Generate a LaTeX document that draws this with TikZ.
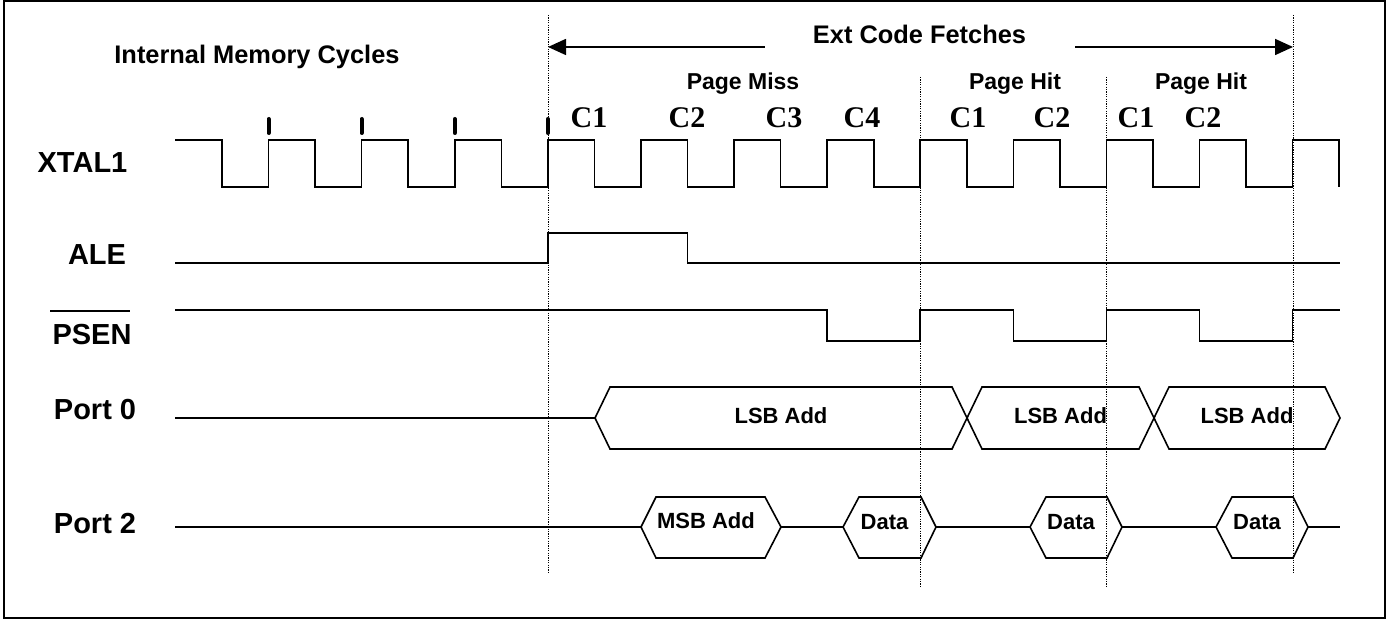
\documentclass[tikz,border=0pt]{standalone}
\usepackage{fontspec}
\setmainfont{Liberation Sans}
\newfontfamily\cycfont{Liberation Serif}
\usepackage{tikz}
\usetikzlibrary{positioning,calc,arrows.meta}

\tikzset{
  wave/.style={line width=0.8pt},
  marker/.style={line width=0.5pt, dash pattern=on 0.6pt off 0.6pt},
  siglabel/.style={font=\fontsize{14.5}{16}\selectfont\bfseries, anchor=base, inner sep=0pt},
  head/.style={font=\fontsize{12.7}{14}\selectfont\bfseries, anchor=base, inner sep=0pt},
  page/.style={font=\fontsize{11.5}{13}\selectfont\bfseries, anchor=base, inner sep=0pt},
  cyc/.style={font=\fontsize{15}{17}\selectfont\cycfont\bfseries, anchor=base, inner sep=0pt},
  bus/.style={font=\fontsize{11}{13}\selectfont\bfseries, anchor=base, inner sep=0pt},
  span/.style={line width=0.8pt, -{Triangle[length=9pt,width=8pt]}}
}

\begin{document}
\begin{tikzpicture}[x=0.5pt, y=-0.5pt]
    \useasboundingbox (0,0) rectangle (1390,619);
    % Border
    \draw[line width=1pt] (4,1.5) rectangle (1385,618);

    % Markers
    \draw[marker] (548,15) -- (548,572);
    \draw[marker] (1293,15) -- (1293,572);
    \draw[marker] (920,77) -- (920,587);
    \draw[marker] (1106,77) -- (1106,587);

    % Headings
    \node[head] (internal) at (257,64) {Internal Memory Cycles};
    \node[head] (fetch) at (919.5,44) {Ext Code Fetches};
    \coordinate (fetchL) at (548,47);
    \coordinate (fetchR) at (1293,47);
    \draw[span] ($(fetch.west |- fetchL)+(-48,0)$) -- (fetchL);
    \draw[span] ($(fetch.east |- fetchR)+(49,0)$) -- (fetchR);

    \node[page] (miss) at (743,90) {Page Miss};
    \node[page] (hitA) at (1015,90) {Page Hit};
    \node[page] (hitB) at (1201,90) {Page Hit};

    % Cycles
    \foreach \k in {0,...,3}
      \draw[line width=2pt, line cap=round] ({268.55+93.1*\k},119) -- ({268.55+93.1*\k},133);
    \node[cyc] (c1a) at (589,128) {C1};
    \node[cyc] (c2a) at (687,128) {C2};
    \node[cyc] (c3a) at (784,128) {C3};
    \node[cyc] (c4a) at (862,128) {C4};
    \node[cyc] (c1b) at (968,128) {C1};
    \node[cyc] (c2b) at (1052,128) {C2};
    \node[cyc] (c1c) at (1136,128) {C1};
    \node[cyc] (c2c) at (1203,128) {C2};

    % Signal names
    \node[siglabel] (xtal) at (82.5,173) {XTAL1};
    \node[siglabel] (ale) at (97,265) {ALE};
    \node[siglabel] (psen) at (92,345) {PSEN};
    \draw[line width=1pt] (50,311) -- (130,311);
    \node[siglabel] (portzero) at (95,420) {Port 0};
    \node[siglabel] (porttwo) at (95,533) {Port 2};

    % XTAL1
    \draw[wave] (175,140)
      \foreach \k in {0,...,11}{
        -- ({222+93.1*\k},140) -- ({222+93.1*\k},187)
        -- ({268.55+93.1*\k},187) -- ({268.55+93.1*\k},140)}
      -- (1339.2,140) -- (1339.2,187);

    % ALE
    \draw[wave] (175,263) -- (547.85,263) -- (547.85,233) -- (687.5,233)
      -- (687.5,263) -- (1340,263);

    % PSEN
    \draw[wave] (175,310) -- (827.15,310) -- (827.15,341) -- (920.25,341)
      -- (920.25,310) -- (1013.35,310) -- (1013.35,341) -- (1106.45,341)
      -- (1106.45,310) -- (1199.55,310) -- (1199.55,341) -- (1292.65,341)
      -- (1292.65,310) -- (1340,310);

    % Port 0
    \draw[wave] (175,418) -- (595,418);
    \foreach \a/\b/\n in {595/967/lsbA, 967/1154/lsbB, 1154/1340/lsbC}{
      \draw[wave] (\a,418) -- ({\a+15},387) -- ({\b-15},387) -- (\b,418)
        -- ({\b-15},449) -- ({\a+15},449) -- cycle;
      \node[bus] (\n) at ({(\a+\b)/2},423) {LSB Add};
    }

    % Port 2
    \draw[wave] (175,527) -- (641,527);
    \draw[wave] (641,527) -- (656,497) -- (765,497) -- (781,527)
      -- (765,558) -- (656,558) -- cycle;
    \node[bus] (msb) at (706,528) {MSB Add};
    \draw[wave] (781,527) -- (843,527);
    \foreach \a/\b/\n in {843/936/dataA, 1030/1122/dataB, 1216/1308/dataC}{
      \draw[wave] (\a,527) -- ({\a+16},497) -- ({\b-15},497) -- (\b,527)
        -- ({\b-15},558) -- ({\a+16},558) -- cycle;
      \node[bus] (\n) at ({(\a+\b)/2-5},529) {Data};
    }
    \draw[wave] (936,527) -- (1030,527);
    \draw[wave] (1122,527) -- (1216,527);
    \draw[wave] (1308,527) -- (1340,527);
\end{tikzpicture}
\end{document}
